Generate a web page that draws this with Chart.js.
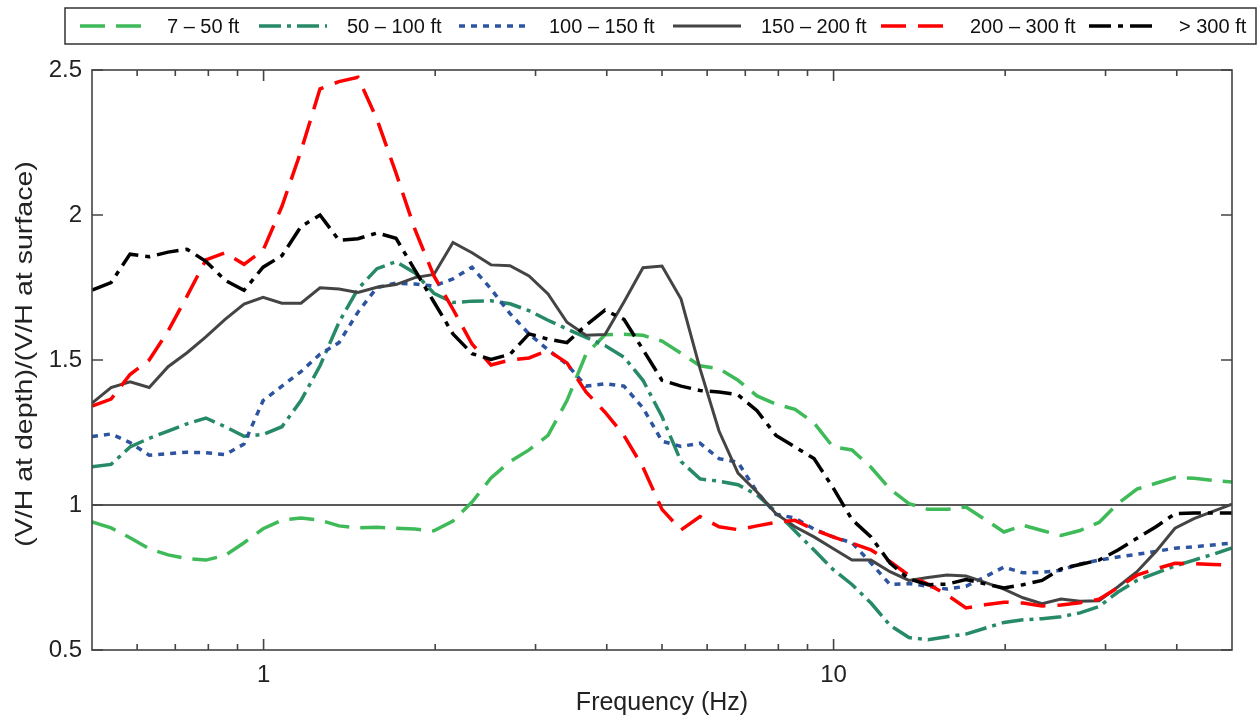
<!DOCTYPE html>
<html>
<head>
<meta charset="utf-8">
<script src="https://cdn.jsdelivr.net/npm/chart.js@4.4.1/dist/chart.umd.min.js"></script>
<style>
  html, body { margin: 0; padding: 0; background: #fff; }
  #wrap { width: 1260px; height: 721px; }
</style>
</head>
<body>
<div id="wrap"><canvas id="vhChart" width="1260" height="721"></canvas></div>
<script>
// frequency grid (Hz), shared by all depth ranges
const freqs = [0.5, 0.54, 0.583, 0.63, 0.68, 0.734, 0.792, 0.856, 0.924, 0.998,
  1.077, 1.163, 1.256, 1.356, 1.464, 1.581, 1.707, 1.843, 1.99, 2.149,
  2.321, 2.506, 2.706, 2.922, 3.155, 3.406, 3.678, 3.972, 4.288, 4.63,
  5, 5.4, 5.83, 6.295, 6.797, 7.339, 7.924, 8.557, 9.24, 9.977,
  10.77, 11.63, 12.56, 13.56, 14.64, 15.81, 17.07, 18.43, 19.9, 21.49,
  23.21, 25.06, 27.06, 29.22, 31.55, 34.06, 36.78, 39.72, 42.88, 46.3, 50];

// (V/H at depth)/(V/H at surface) per depth range
const ft7to50 = [0.942, 0.921, 0.887, 0.849, 0.828, 0.815, 0.810, 0.826, 0.870, 0.918,
  0.948, 0.955, 0.948, 0.928, 0.921, 0.923, 0.920, 0.917, 0.911, 0.945,
  1.01, 1.093, 1.15, 1.19, 1.24, 1.36, 1.52, 1.587, 1.589, 1.585,
  1.565, 1.523, 1.48, 1.47, 1.43, 1.376, 1.348, 1.33, 1.283, 1.2,
  1.19, 1.13, 1.055, 1.005, 0.985, 0.985, 0.993, 0.95, 0.907, 0.93,
  0.912, 0.895, 0.912, 0.94, 1.005, 1.055, 1.075, 1.095, 1.092, 1.085, 1.079];
const ft50to100 = [1.132, 1.14, 1.20, 1.23, 1.255, 1.28, 1.30, 1.27, 1.237, 1.243,
  1.27, 1.36, 1.48, 1.63, 1.745, 1.815, 1.839, 1.80, 1.73, 1.698,
  1.703, 1.704, 1.694, 1.67, 1.637, 1.607, 1.578, 1.55, 1.51, 1.43,
  1.305, 1.15, 1.09, 1.082, 1.07, 1.035, 0.976, 0.91, 0.845, 0.778,
  0.726, 0.662, 0.585, 0.543, 0.535, 0.546, 0.555, 0.575, 0.595, 0.604,
  0.608, 0.615, 0.628, 0.65, 0.70, 0.74, 0.765, 0.79, 0.81, 0.83, 0.852];
const ft100to150 = [1.236, 1.245, 1.215, 1.172, 1.177, 1.182, 1.18, 1.174, 1.21, 1.36,
  1.41, 1.46, 1.52, 1.56, 1.665, 1.75, 1.765, 1.762, 1.755, 1.78,
  1.82, 1.745, 1.66, 1.59, 1.535, 1.485, 1.41, 1.418, 1.41, 1.335,
  1.22, 1.202, 1.213, 1.16, 1.147, 1.045, 0.968, 0.955, 0.917, 0.89,
  0.87, 0.80, 0.726, 0.729, 0.72, 0.71, 0.72, 0.752, 0.786, 0.766,
  0.768, 0.775, 0.797, 0.81, 0.821, 0.83, 0.84, 0.851, 0.856, 0.862, 0.869];
const ft150to200 = [1.351, 1.405, 1.425, 1.405, 1.477, 1.525, 1.58, 1.64, 1.693, 1.716,
  1.696, 1.696, 1.749, 1.745, 1.733, 1.751, 1.76, 1.784, 1.795, 1.905,
  1.87, 1.828, 1.825, 1.79, 1.728, 1.63, 1.585, 1.588, 1.70, 1.818,
  1.824, 1.71, 1.47, 1.255, 1.11, 1.045, 0.97, 0.925, 0.89, 0.85,
  0.81, 0.81, 0.77, 0.74, 0.75, 0.759, 0.755, 0.733, 0.71, 0.68,
  0.66, 0.676, 0.668, 0.67, 0.718, 0.77, 0.84, 0.92, 0.953, 0.978, 1.003];
const ft200to300 = [1.341, 1.365, 1.45, 1.50, 1.60, 1.72, 1.845, 1.87, 1.83, 1.878,
  2.03, 2.22, 2.435, 2.46, 2.475, 2.33, 2.145, 1.95, 1.79, 1.675,
  1.555, 1.483, 1.50, 1.507, 1.533, 1.49, 1.39, 1.32, 1.24, 1.13,
  0.985, 0.914, 0.96, 0.925, 0.915, 0.928, 0.94, 0.947, 0.915, 0.89,
  0.868, 0.845, 0.805, 0.757, 0.727, 0.69, 0.645, 0.656, 0.665, 0.662,
  0.652, 0.655, 0.663, 0.675, 0.715, 0.758, 0.78, 0.799, 0.798, 0.795, 0.793];
const ftOver300 = [1.741, 1.767, 1.865, 1.856, 1.872, 1.882, 1.84, 1.775, 1.74, 1.82,
  1.86, 1.96, 2.0, 1.913, 1.918, 1.938, 1.92, 1.81, 1.70, 1.59,
  1.522, 1.502, 1.52, 1.59, 1.572, 1.56, 1.62, 1.672, 1.64, 1.536,
  1.43, 1.41, 1.395, 1.39, 1.38, 1.325, 1.24, 1.20, 1.16, 1.06,
  0.95, 0.89, 0.80, 0.745, 0.725, 0.727, 0.743, 0.728, 0.714, 0.725,
  0.74, 0.78, 0.795, 0.81, 0.845, 0.885, 0.925, 0.97, 0.972, 0.972, 0.972];

const seriesNames = ['7 \u2013 50 ft', '50 \u2013 100 ft', '100 \u2013 150 ft',
  '150 \u2013 200 ft', '200 \u2013 300 ft', '> 300 ft'];
const seriesValues = [ft7to50, ft50to100, ft100to150, ft150to200, ft200to300, ftOver300];

const xLabelTicks = [1, 10];
const xMinorTicks = [0.6, 0.7, 0.8, 0.9, 2, 3, 4, 5, 6, 7, 8, 9, 20, 30, 40];
const yTicks = [0.5, 1, 1.5, 2, 2.5];
const refLevel = 1;
const yTitle = '(V/H at depth)/(V/H at surface)';

const FONT = '"Liberation Sans", Arial, Helvetica, sans-serif';

const styles = [
  { color: 'rgb(62,186,88)', dash: [25, 11], width: 3.5 },
  { color: 'rgb(38,138,102)', dash: [22, 6, 4, 6], width: 3.5 },
  { color: 'rgb(44,84,160)', dash: [6, 6], width: 3.5 },
  { color: 'rgb(68,68,68)', dash: [], width: 3 },
  { color: 'rgb(255,0,0)', dash: [25, 12], width: 3.5 },
  { color: 'rgb(0,0,0)', dash: [22, 7, 5, 7], width: 3.5 }
];

const datasets = seriesNames.map((name, i) => ({
  label: name,
  data: freqs.map((f, j) => ({ x: f, y: seriesValues[i][j] })),
  borderColor: styles[i].color,
  borderDash: styles[i].dash,
  borderWidth: styles[i].width,
  pointRadius: 0,
  fill: false,
  tension: 0,
  order: seriesNames.length - 1 - i
}));

// frame, inward ticks, reference line, y title and boxed legend
const framePlugin = {
  id: 'frame',
  beforeDatasetsDraw(chart) {
    const { ctx, chartArea: a, scales } = chart;
    const yr = scales.y.getPixelForValue(refLevel);
    ctx.save();
    ctx.strokeStyle = '#222';
    ctx.lineWidth = 1.5;
    ctx.beginPath();
    ctx.moveTo(a.left, yr);
    ctx.lineTo(a.right, yr);
    ctx.stroke();
    ctx.restore();
  },
  afterDraw(chart) {
    const { ctx, chartArea: a, scales } = chart;
    ctx.save();
    ctx.strokeStyle = '#444';
    ctx.lineWidth = 1.6;
    ctx.setLineDash([]);
    ctx.strokeRect(a.left, a.top, a.right - a.left, a.bottom - a.top);

    ctx.beginPath();
    const xt = (v, len) => {
      const px = scales.x.getPixelForValue(v);
      ctx.moveTo(px, a.bottom); ctx.lineTo(px, a.bottom - len);
      ctx.moveTo(px, a.top); ctx.lineTo(px, a.top + len);
    };
    xLabelTicks.forEach(v => xt(v, 11));
    xMinorTicks.forEach(v => xt(v, 6));
    yTicks.forEach(v => {
      const py = scales.y.getPixelForValue(v);
      ctx.moveTo(a.left, py); ctx.lineTo(a.left + 11, py);
      ctx.moveTo(a.right, py); ctx.lineTo(a.right - 11, py);
    });
    ctx.stroke();

    // y axis title, stretched a little along its length like the original
    ctx.save();
    ctx.translate(25, 354);
    ctx.rotate(-Math.PI / 2);
    ctx.scale(1.19, 1);
    ctx.font = '24px ' + FONT;
    ctx.fillStyle = '#222';
    ctx.textAlign = 'center';
    ctx.textBaseline = 'middle';
    ctx.fillText(yTitle, 0, 0);
    ctx.restore();

    // legend
    const box = { l: 65, t: 8, r: 1256, b: 44 };
    ctx.strokeStyle = '#333';
    ctx.lineWidth = 1.5;
    ctx.strokeRect(box.l, box.t, box.r - box.l, box.b - box.t);
    const cy = (box.t + box.b) / 2;
    const sampleX = [80, 259, 459, 673, 881, 1089];
    const textX = [167, 347, 549, 761, 970, 1179];
    ctx.font = '20px ' + FONT;
    ctx.textBaseline = 'middle';
    ctx.textAlign = 'left';
    chart.data.datasets.forEach((ds, i) => {
      ctx.strokeStyle = ds.borderColor;
      ctx.lineWidth = ds.borderWidth;
      ctx.setLineDash(ds.borderDash);
      ctx.beginPath();
      ctx.moveTo(sampleX[i], cy);
      ctx.lineTo(textX[i] - 20, cy);
      ctx.stroke();
      ctx.fillStyle = '#111';
      ctx.fillText(ds.label, textX[i], cy + 1);
    });
    ctx.restore();
  }
};

new Chart(document.getElementById('vhChart').getContext('2d'), {
  type: 'line',
  data: { datasets: datasets },
  options: {
    responsive: false,
    animation: false,
    devicePixelRatio: 1,
    layout: { padding: { top: 70, right: 28, left: 0, bottom: 0 } },
    plugins: { legend: { display: false }, tooltip: { enabled: false } },
    scales: {
      x: {
        type: 'logarithmic',
        min: 0.5,
        max: 50,
        grid: { display: false, drawTicks: false },
        border: { display: false },
        afterBuildTicks: s => { s.ticks = xLabelTicks.map(v => ({ value: v })); },
        afterFit: s => { s.height = 71; },
        ticks: {
          autoSkip: false,
          maxRotation: 0,
          padding: 11,
          color: '#222',
          font: { family: FONT, size: 24 },
          callback: v => String(v)
        },
        title: {
          display: true,
          text: 'Frequency (Hz)',
          color: '#222',
          font: { family: FONT, size: 25 },
          padding: { top: 0, bottom: 3 }
        }
      },
      y: {
        min: 0.5,
        max: 2.5,
        grid: { display: false, drawTicks: false },
        border: { display: false },
        afterBuildTicks: s => { s.ticks = yTicks.map(v => ({ value: v })); },
        afterFit: s => { s.width = 92; },
        ticks: {
          padding: 10,
          color: '#222',
          font: { family: FONT, size: 24 },
          callback: v => String(v)
        }
      }
    }
  },
  plugins: [framePlugin]
});
</script>
</body>
</html>
